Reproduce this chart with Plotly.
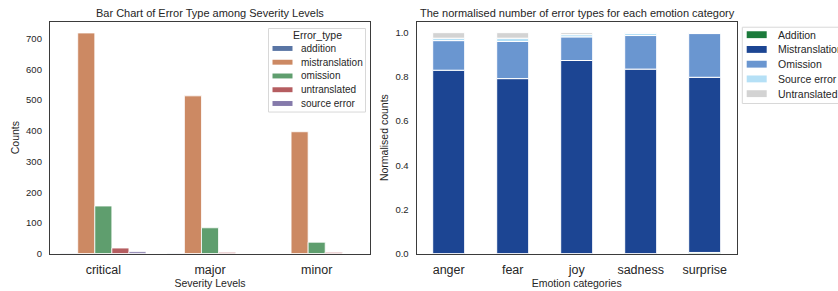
import numpy as np
import plotly.graph_objects as go

# ---------------- data ----------------
severity_levels = ["critical", "major", "minor"]
error_types = ["addition", "mistranslation", "omission", "untranslated", "source error"]
counts = {
    "addition":       [1, 1, 0],
    "mistranslation": [719, 514, 397],
    "omission":       [155, 84, 37],
    "untranslated":   [18, 4, 4],
    "source error":   [6, 0, 0],
}

emotions = ["anger", "fear", "joy", "sadness", "surprise"]
norm_types = ["Addition", "Mistranslation", "Omission", "Source error", "Untranslated"]
norm = {
    "Addition":       [0.000, 0.000, 0.000, 0.000, 0.005],
    "Mistranslation": [0.830, 0.792, 0.874, 0.835, 0.793],
    "Omission":       [0.134, 0.168, 0.107, 0.152, 0.198],
    "Source error":   [0.011, 0.015, 0.010, 0.010, 0.004],
    "Untranslated":   [0.025, 0.025, 0.009, 0.003, 0.000],
}

left_colors = ["#5975a4", "#cc8963", "#5f9e6e", "#b55d60", "#857aab"]
right_colors = ["#1b7a3b", "#1c4593", "#6a96d0", "#b5e0f6", "#d3d3d3"]

FONT = "Liberation Sans, Arial, sans-serif"
W, H = 838, 291


def px(x):
    return x / W


def py(y):
    return 1 - y / H


fig = go.Figure()

# ---------------- left: grouped bars ----------------
n = len(error_types)
group_w = 0.8
w = group_w / n
for i, (et, col) in enumerate(zip(error_types, left_colors)):
    fig.add_trace(go.Bar(
        x=severity_levels, y=counts[et], name=et,
        marker=dict(color=col, line=dict(color="white", width=0.8)),
        width=w, offset=-group_w / 2 + i * w,
        xaxis="x", yaxis="y", showlegend=False,
    ))

# ---------------- right: stacked normalised bars ----------------
base = np.zeros(len(emotions))
for et, col in zip(norm_types, right_colors):
    vals = np.array(norm[et])
    fig.add_trace(go.Bar(
        x=emotions, y=vals, base=base.copy(), name=et,
        marker=dict(color=col, line=dict(color="white", width=1)),
        width=0.5, offset=-0.25,
        xaxis="x2", yaxis="y2", showlegend=False,
    ))
    base = base + vals


# ---------------- matplotlib-style legends ----------------
def legend_box(names, colors, x0, x1, y0, y1, sw_x0, sw_w, sw_h, txt_x, y_first, step,
               fsize, title=None, title_xy=None):
    shp = [dict(type="rect", xref="paper", yref="paper",
                x0=px(x0), x1=px(x1), y0=py(y1), y1=py(y0),
                line=dict(color="#d8d8d8", width=1), fillcolor="rgba(255,255,255,0.8)",
                layer="above")]
    ann = []
    if title:
        ann.append(dict(text=title, x=px(title_xy[0]), y=py(title_xy[1]),
                        xref="paper", yref="paper", xanchor="center", yanchor="middle",
                        showarrow=False, font=dict(size=fsize + 0.5)))
    for i, (nm, col) in enumerate(zip(names, colors)):
        yc = y_first + i * step
        shp.append(dict(type="rect", xref="paper", yref="paper",
                        x0=px(sw_x0), x1=px(sw_x0 + sw_w),
                        y0=py(yc + sw_h / 2), y1=py(yc - sw_h / 2),
                        line=dict(width=0), fillcolor=col, layer="above"))
        ann.append(dict(text=nm, x=px(txt_x), y=py(yc), xref="paper", yref="paper",
                        xanchor="left", yanchor="middle", showarrow=False,
                        font=dict(size=fsize)))
    return shp, ann


s1, a1 = legend_box(error_types, left_colors, 268.5, 365.5, 29, 114, 272.5, 20, 5, 299,
                    49.3, 14, 10, title="Error_type", title_xy=(317, 35.5))
s2, a2 = legend_box(norm_types, right_colors, 742.3, 860, 27.7, 105.3, 746.7, 20, 7, 776,
                    35.3, 15, 10.5)
shapes = s1 + s2
annotations = a1 + a2

annotations += [
    dict(text="Bar Chart of Error Type among Severity Levels",
         x=px(210), y=py(13), xref="paper", yref="paper",
         xanchor="center", yanchor="middle", showarrow=False, font=dict(size=11)),
    dict(text="The normalised number of error types for each emotion category",
         x=px(577), y=py(13), xref="paper", yref="paper",
         xanchor="center", yanchor="middle", showarrow=False, font=dict(size=11)),
]

axis_common = dict(
    showline=True, linecolor="#3b3b3b", linewidth=1.3, mirror=True,
    showgrid=False, zeroline=False,
    ticks="outside", tickcolor="rgba(0,0,0,0)",
)

y_dom = [py(258), py(22)]
fig.update_layout(
    width=W, height=H,
    margin=dict(l=0, r=0, t=0, b=0),
    paper_bgcolor="white", plot_bgcolor="white",
    barmode="overlay",
    font=dict(family=FONT, color="#262626", size=10),
    showlegend=False,
    xaxis=dict(domain=[px(50), px(370)], anchor="y", range=[-0.5, 2.5],
               tickfont=dict(size=12.5), ticklen=4,
               title=dict(text="Severity Levels", font=dict(size=10.5), standoff=0),
               **axis_common),
    yaxis=dict(domain=y_dom, anchor="x", range=[0, 756],
               tickvals=[0, 100, 200, 300, 400, 500, 600, 700],
               tickfont=dict(size=9.5), ticklen=5,
               title=dict(text="Counts", font=dict(size=10.5), standoff=4),
               **axis_common),
    xaxis2=dict(domain=[px(416.7), px(736.7)], anchor="y2", range=[-0.5, 4.5],
                tickfont=dict(size=12.5), ticklen=4,
                title=dict(text="Emotion categories", font=dict(size=10.5), standoff=0),
                **axis_common),
    yaxis2=dict(domain=y_dom, anchor="x2", range=[0, 1.05],
                tickvals=[0, 0.2, 0.4, 0.6, 0.8, 1.0], tickformat=".1f",
                tickfont=dict(size=9.5), ticklen=5,
                title=dict(text="Normalised counts", font=dict(size=10.5), standoff=4),
                **axis_common),
    shapes=shapes,
    annotations=annotations,
)

fig.write_html("out.html", config={"displayModeBar": False},
               post_script="document.body.style.margin='0';document.body.style.overflow='hidden';")
